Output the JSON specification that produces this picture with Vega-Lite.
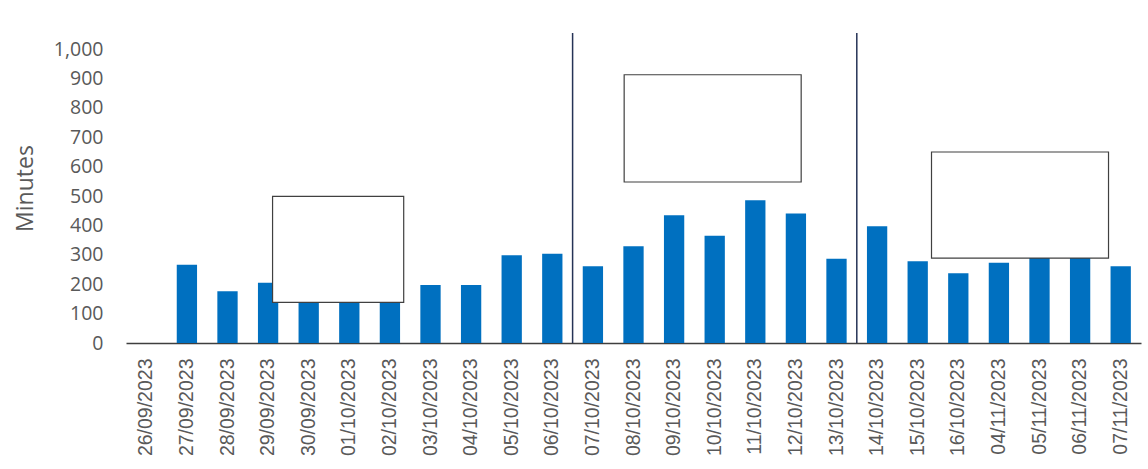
{
  "$schema": "https://vega.github.io/schema/vega-lite/v6.json",
  "width": 1015,
  "height": 310,
  "autosize": {"type": "none"},
  "padding": {"left": 126, "top": 33, "right": 7, "bottom": 126},
  "background": "white",
  "config": {"view": {"stroke": null}},
  "datasets": {
    "bars": [
      {"date": "26/09/2023", "minutes": 0},
      {"date": "27/09/2023", "minutes": 266},
      {"date": "28/09/2023", "minutes": 176},
      {"date": "29/09/2023", "minutes": 205},
      {"date": "30/09/2023", "minutes": 210},
      {"date": "01/10/2023", "minutes": 195},
      {"date": "02/10/2023", "minutes": 205},
      {"date": "03/10/2023", "minutes": 197},
      {"date": "04/10/2023", "minutes": 197},
      {"date": "05/10/2023", "minutes": 299},
      {"date": "06/10/2023", "minutes": 304},
      {"date": "07/10/2023", "minutes": 261},
      {"date": "08/10/2023", "minutes": 329},
      {"date": "09/10/2023", "minutes": 435},
      {"date": "10/10/2023", "minutes": 365},
      {"date": "11/10/2023", "minutes": 486},
      {"date": "12/10/2023", "minutes": 441},
      {"date": "13/10/2023", "minutes": 287},
      {"date": "14/10/2023", "minutes": 397},
      {"date": "15/10/2023", "minutes": 278},
      {"date": "16/10/2023", "minutes": 237},
      {"date": "04/11/2023", "minutes": 273},
      {"date": "05/11/2023", "minutes": 300},
      {"date": "06/11/2023", "minutes": 300},
      {"date": "07/11/2023", "minutes": 261}
    ],
    "dividers": [{"pos": 11}, {"pos": 18}],
    "boxes": [
      {"xs": 3.61, "xe": 6.84, "ys": 138, "ye": 499},
      {"xs": 12.27, "xe": 16.63, "ys": 548, "ye": 913},
      {"xs": 19.84, "xe": 24.2, "ys": 289, "ye": 650}
    ]
  },
  "resolve": {"scale": {"x": "independent"}},
  "layer": [
    {
      "data": {"name": "bars"},
      "mark": {"type": "bar", "color": "#0070c0"},
      "encoding": {
        "x": {
          "field": "date", "type": "nominal", "sort": null,
          "scale": {"paddingInner": 0.5, "paddingOuter": 0.25},
          "axis": {
            "title": null, "labelAngle": -90, "labelFont": "Liberation Sans",
            "labelFontSize": 19.5, "labelColor": "#595959", "ticks": false,
            "labelPadding": 15, "domainColor": "#3f3f3f", "domainWidth": 1.3,
            "grid": false, "labelOverlap": false
          }
        },
        "y": {
          "field": "minutes", "type": "quantitative",
          "scale": {"domain": [0, 1055], "nice": false},
          "axis": {
            "title": "Minutes", "titleFont": "Open Sans", "titleFontSize": 23,
            "titleFontWeight": "normal", "titleColor": "#595959", "titlePadding": 16,
            "values": [0, 100, 200, 300, 400, 500, 600, 700, 800, 900, 1000],
            "format": ",d", "labelFont": "Open Sans", "labelFontSize": 19.5,
            "labelColor": "#595959", "ticks": false, "labelPadding": 23,
            "domain": false, "grid": false, "labelOverlap": false
          }
        }
      }
    },
    {
      "data": {"name": "dividers"},
      "mark": {"type": "rule", "color": "#253356", "strokeWidth": 1.5},
      "encoding": {
        "x": {"field": "pos", "type": "quantitative", "scale": {"domain": [0, 25], "nice": false, "zero": false}, "axis": null}
      }
    },
    {
      "data": {"name": "boxes"},
      "mark": {"type": "rect", "fill": "white", "stroke": "#404040", "strokeWidth": 1.2},
      "encoding": {
        "x": {"field": "xs", "type": "quantitative", "scale": {"domain": [0, 25], "nice": false, "zero": false}, "axis": null},
        "x2": {"field": "xe"},
        "y": {
          "field": "ys", "type": "quantitative", "scale": {"domain": [0, 1055], "nice": false},
          "axis": {
            "title": "Minutes", "titleFont": "Open Sans", "titleFontSize": 23,
            "titleFontWeight": "normal", "titleColor": "#595959", "titlePadding": 16,
            "values": [0, 100, 200, 300, 400, 500, 600, 700, 800, 900, 1000],
            "format": ",d", "labelFont": "Open Sans", "labelFontSize": 19.5,
            "labelColor": "#595959", "ticks": false, "labelPadding": 23,
            "domain": false, "grid": false, "labelOverlap": false
          }
        },
        "y2": {"field": "ye"}
      }
    }
  ]
}
